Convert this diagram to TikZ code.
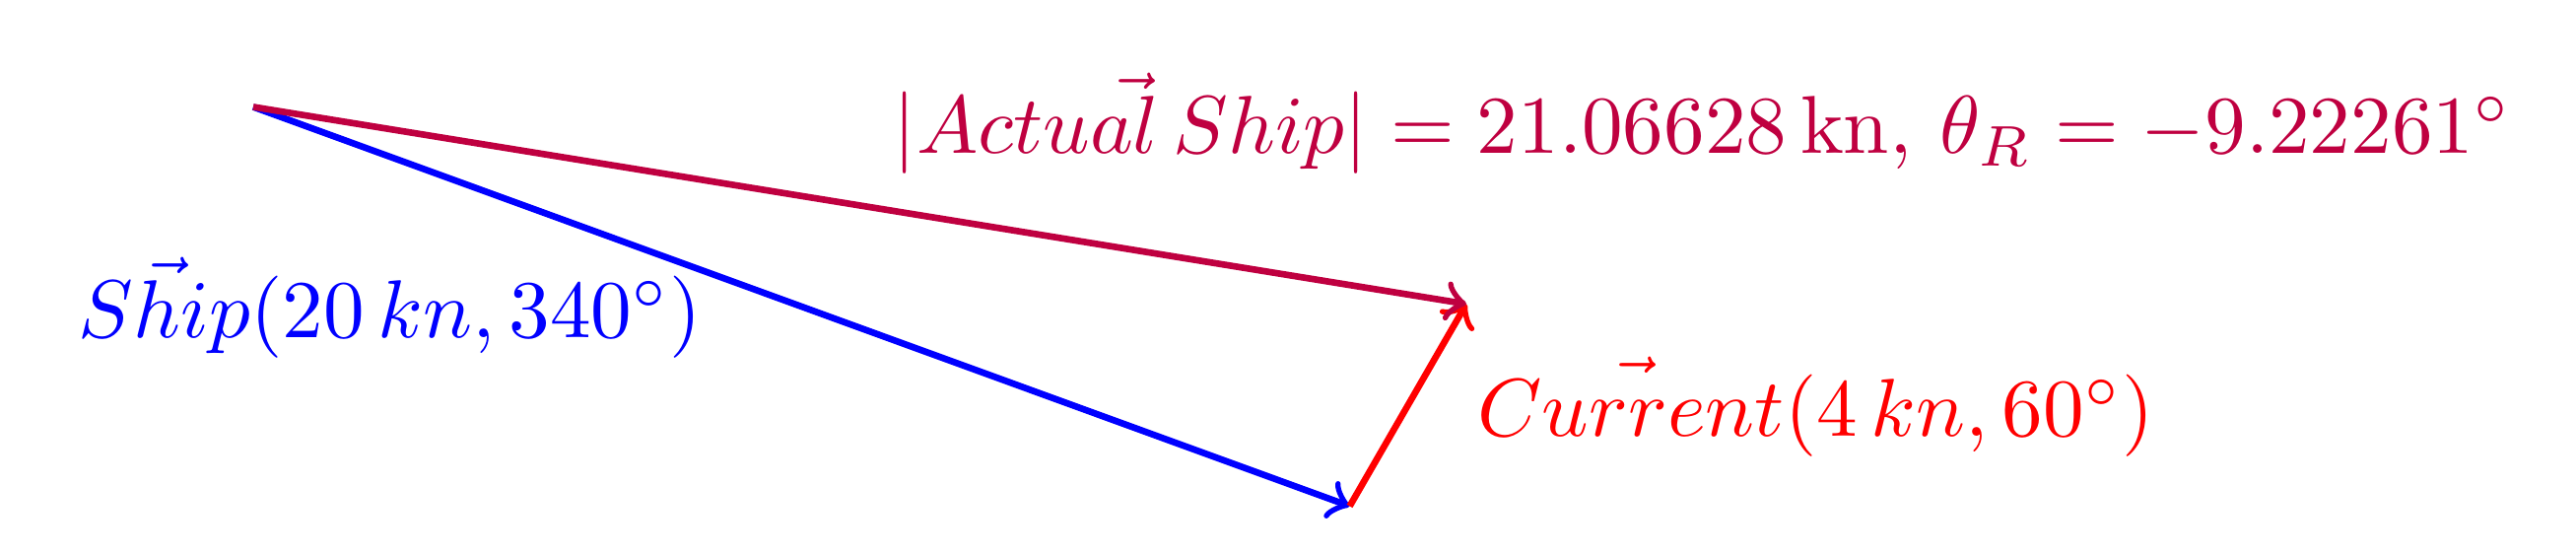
\documentclass[tikz,border=0pt]{standalone}
\usepackage{amsmath}
\usetikzlibrary{calc}
\begin{document}
\begin{tikzpicture}[x=0.25cm,y=0.25cm,
  vec/.style={thick,->},
  lbl/.style={anchor=base west,inner sep=0pt}]
\useasboundingbox (-4.341,-7.677) rectangle (39.814,1.833);
\coordinate (O) at (0,0);
\coordinate (S) at (340:20);
\coordinate (R) at ($(S)+(60:4)$);
\draw[vec,blue] (O) -- (S);
\draw[vec,red] (S) -- (R);
\draw[vec,purple] (O) -- (R);
\node[lbl,blue] (ls) at (-3.02,-3.96) {$\vec{Ship}(20\,kn,340^\circ)$};
\node[lbl,red] (lc) at (20.96,-5.65) {$\vec{Current}(4\,kn,60^\circ)$};
\node[lbl,purple] (la) at (10.95,-0.80) {$|\vec{Actual\,Ship}| = 21.06628\,\mathrm{kn},\, \theta_R = -9.22261^\circ$};
\end{tikzpicture}
\end{document}
